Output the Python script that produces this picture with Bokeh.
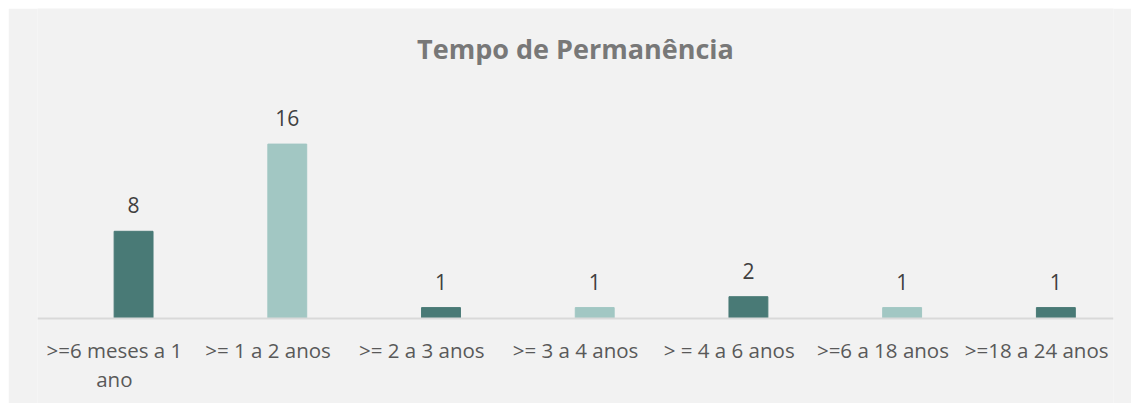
from bokeh.plotting import figure
from bokeh.models import ColumnDataSource, LabelSet, Label, FactorRange, Range1d, Span
from bokeh.transform import dodge
from bokeh.core.properties import value
from bokeh.embed import file_html
from bokeh.resources import INLINE

title = "Tempo de Permanência"
categories = [">=6 meses a 1 ano", ">= 1 a 2 anos", ">= 2 a 3 anos", ">= 3 a 4 anos",
              "> = 4 a 6 anos", ">=6 a 18 anos", ">=18 a 24 anos"]
label_line1 = [">=6 meses a 1", ">= 1 a 2 anos", ">= 2 a 3 anos", ">= 3 a 4 anos",
               "> = 4 a 6 anos", ">=6 a 18 anos", ">=18 a 24 anos"]
label_line2 = ["ano", "", "", "", "", "", ""]
values = [8, 16, 1, 1, 2, 1, 1]
colors = ["#497a76", "#a2c7c3", "#497a76", "#a2c7c3", "#497a76", "#a2c7c3", "#497a76"]

src = ColumnDataSource(dict(cat=categories, val=values, color=colors,
                            lbl=[str(v) for v in values], l1=label_line1, l2=label_line2,
                            zero=[0] * len(values)))

W, H = 1123, 395
BASE_PX = 310      # baseline position from top of figure (px)
PX_PER_UNIT = 10.9

BG = "#f2f2f2"
p = figure(width=W, height=H, x_range=FactorRange(*categories),
           y_range=Range1d(-(H - BASE_PX) / PX_PER_UNIT, BASE_PX / PX_PER_UNIT),
           output_backend="svg", toolbar_location=None,
           background_fill_color=BG, border_fill_color=BG, outline_line_color=None,
           min_border_left=29, min_border_right=18, min_border_bottom=0, min_border_top=0)
p.margin = (8, 0, 0, 8)

xb = dodge("cat", 0.125, range=p.x_range)
p.vbar(x=xb, top="val", width=0.253, color="color", source=src)

p.add_layout(Span(location=0, dimension="width", line_color="#d9d9d9", line_width=2))

p.add_layout(LabelSet(x=xb, y="val", text="lbl", source=src, y_offset=18,
                      text_align="center", text_baseline="alphabetic",
                      text_font=value("Open Sans"), text_font_size="21px", text_color="#404040"))

for col, off in (("l1", -39), ("l2", -68)):
    p.add_layout(LabelSet(x="cat", y="zero", text=col, source=src, y_offset=off,
                          text_align="center", text_baseline="alphabetic",
                          text_font=value("Open Sans"), text_font_size="20.5px",
                          text_color="#595959"))

p.add_layout(Label(x=len(categories) / 2, y=(BASE_PX - 40) / PX_PER_UNIT, text=title,
                   text_align="center", text_baseline="alphabetic",
                   text_font="Open Sans", text_font_size="27px", text_font_style="bold",
                   text_color="#787878"))

p.axis.visible = False
p.grid.visible = False

open("out.html", "w").write(file_html(p, INLINE))
